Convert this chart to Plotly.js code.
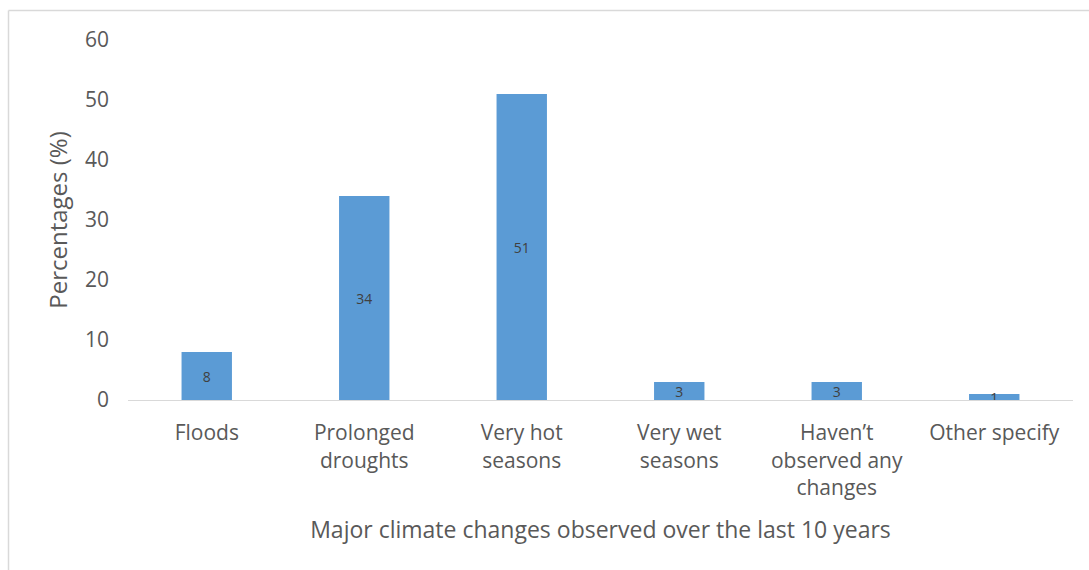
<!DOCTYPE html>
<html>
<head>
<meta charset="utf-8">
<script src="https://cdn.plot.ly/plotly-3.0.1.min.js"></script>
<style>
  html, body { margin: 0; padding: 0; background: #fff; }
  #chart { width: 1089px; height: 570px; }
</style>
</head>
<body>
<div id="chart"></div>
<script>
// Survey responses: observed climate changes
const categories = [
  "Floods",
  "Prolonged<br>droughts",
  "Very hot<br>seasons",
  "Very wet<br>seasons",
  "Haven\u2019t<br>observed any<br>changes",
  "Other specify"
];
const percentages = [8, 34, 51, 3, 3, 1];
const yTicks = [0, 10, 20, 30, 40, 50, 60];

const FONT = "Open Sans, Noto Sans, sans-serif";
const GRID = "#d9d9d9";

const trace = {
  type: "bar",
  x: categories,
  y: percentages,
  marker: { color: "#5b9bd5" },
  text: percentages.map(String),
  textposition: "inside",
  insidetextanchor: "middle",
  textangle: 0,
  constraintext: "none",
  textfont: { family: FONT, size: 14, color: "#404040" },
  hoverinfo: "x+y"
};

const layout = {
  width: 1089,
  height: 570,
  margin: { l: 128, r: 16, t: 40, b: 170 },
  paper_bgcolor: "#ffffff",
  plot_bgcolor: "#ffffff",
  showlegend: false,
  bargap: 0.68,
  font: { family: FONT, color: "#595959" },
  xaxis: {
    type: "category",
    showline: true,
    linecolor: GRID,
    linewidth: 1,
    ticks: "",
    showgrid: false,
    tickfont: { family: FONT, size: 21, color: "#595959" },
    ticklabelstandoff: 14,
    title: {
      text: "Major climate changes observed over the last 10 years",
      font: { family: FONT, size: 23, color: "#595959" },
      standoff: 22
    }
  },
  yaxis: {
    range: [0, 60],
    tickvals: yTicks,
    ticktext: yTicks.map(String),
    showgrid: false,
    zeroline: false,
    showline: false,
    ticks: "",
    tickfont: { family: FONT, size: 21, color: "#595959" },
    ticklabelstandoff: 18,
    title: {
      text: "Percentages (%)",
      font: { family: FONT, size: 24, color: "#595959" },
      standoff: 10
    }
  }
};

Plotly.newPlot("chart", [trace], layout, { displayModeBar: false, staticPlot: true }).then(() => {
  // thin frame edges (top and left) around the chart area
  const svg = document.querySelector("#chart .main-svg");
  const ns = "http://www.w3.org/2000/svg";
  const g = document.createElementNS(ns, "g");
  [[8.5, 10.5, 1089, 10.5], [8.5, 10.5, 8.5, 570]].forEach(([x1, y1, x2, y2]) => {
    const l = document.createElementNS(ns, "line");
    l.setAttribute("x1", x1); l.setAttribute("y1", y1);
    l.setAttribute("x2", x2); l.setAttribute("y2", y2);
    l.setAttribute("stroke", GRID); l.setAttribute("stroke-width", "1.5");
    g.appendChild(l);
  });
  svg.appendChild(g);
});
</script>
</body>
</html>
